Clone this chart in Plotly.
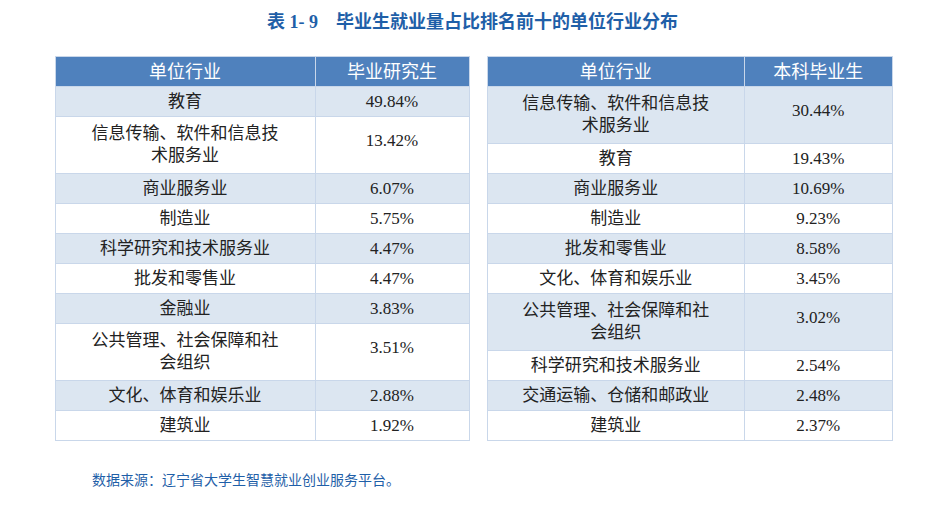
import plotly.graph_objects as go

title = "表 1- 9　毕业生就业量占比排名前十的单位行业分布"
P4 = "\u3000\u3000\u3000\u2002"
P3 = "\u3000\u3000\u3000\u3000"
left_header = ["单位行业", "毕业研究生"]
left_ind = ["教育", "信息传输、软件和信息技<br>" + P4 + "术服务业", "商业服务业", "制造业", "科学研究和技术服务业",
            "批发和零售业", "金融业", "公共管理、社会保障和社<br>" + P3 + "会组织", "文化、体育和娱乐业", "建筑业"]
left_val = ["49.84%", "<br>13.42%", "6.07%", "5.75%", "4.47%", "4.47%", "3.83%", "<br>3.51%", "2.88%", "1.92%"]
right_header = ["单位行业", "本科毕业生"]
right_ind = ["信息传输、软件和信息技<br>" + P4 + "术服务业", "教育", "商业服务业", "制造业", "批发和零售业",
             "文化、体育和娱乐业", "公共管理、社会保障和社<br>" + P3 + "会组织", "科学研究和技术服务业",
             "交通运输、仓储和邮政业", "建筑业"]
right_val = ["<br>30.44%", "19.43%", "10.69%", "9.23%", "8.58%", "3.45%", "<br>3.02%", "2.54%", "2.48%", "2.37%"]
source = "数据来源：辽宁省大学生智慧就业创业服务平台。"

W, H = 944, 508
OX, OY = 8, 9
HEAD = "#4F81BD"
SHADE = "#DCE6F1"
LINE = "#C9D7EA"
FONT = "Liberation Serif, Noto Sans CJK SC"

def fills(n):
    return [SHADE if i % 2 == 0 else "white" for i in range(n)]

def table(header, ind, val, x0, x1, widths):
    f = fills(len(ind))
    return go.Table(
        domain=dict(x=[(x0 - OX) / W, (x1 - OX) / W], y=[1 - (458 - OY) / H, 1 - (57 - OY) / H]),
        columnwidth=widths,
        header=dict(values=header, fill_color=HEAD, line_color=LINE, height=30,
                    font=dict(color="white", size=18, family=FONT), align="center"),
        cells=dict(values=[ind, val], fill_color=[f, f], line_color=LINE, height=30,
                   font=dict(color="#222222", size=17, family=FONT), align="center"),
    )

t1 = table(left_header, left_ind, left_val, 55, 469, [260, 154])
t2 = table(right_header, right_ind, right_val, 487, 893, [258, 148])

fig = go.Figure([t1, t2])
fig.update_layout(
    width=W, height=H, margin=dict(l=0, r=0, t=0, b=0),
    paper_bgcolor="white",
    annotations=[
        dict(text="<b>" + title + "</b>", x=0.5 - OX / W, y=1 - 14 / H, xref="paper", yref="paper",
             yanchor="middle", showarrow=False, font=dict(size=18, color="#1F5FA8", family=FONT)),
        dict(text=source, x=(90 - OX) / W, y=1 - (481 - OY) / H, xref="paper", yref="paper", xanchor="left",
             yanchor="middle", showarrow=False, font=dict(size=14, color="#1F5FA8", family=FONT)),
    ],
)
fig.write_html("out.html")
